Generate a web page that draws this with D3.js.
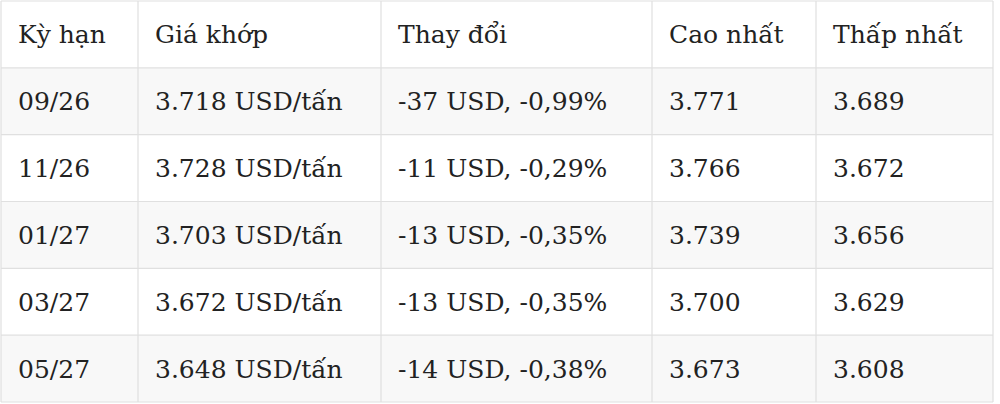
<!DOCTYPE html>
<html>
<head>
<meta charset="utf-8">
<script src="https://cdn.jsdelivr.net/npm/d3@7"></script>
<style>
  html, body { margin: 0; padding: 0; background: #fff; }
  svg { display: block; }
  text { font-family: "DejaVu Serif", serif; font-size: 25px; fill: #222; }
</style>
</head>
<body>
<svg id="chart" width="1000" height="404"></svg>
<script>
// data
const headers = ['Kỳ hạn', 'Giá khớp', 'Thay đổi', 'Cao nhất', 'Thấp nhất'];
const terms = ['09/26', '11/26', '01/27', '03/27', '05/27'];
const prices = ['3.718 USD/tấn', '3.728 USD/tấn', '3.703 USD/tấn', '3.672 USD/tấn', '3.648 USD/tấn'];
const changes = ['-37 USD, -0,99%', '-11 USD, -0,29%', '-13 USD, -0,35%', '-13 USD, -0,35%', '-14 USD, -0,38%'];
const highs = ['3.771', '3.766', '3.739', '3.700', '3.673'];
const lows = ['3.689', '3.672', '3.656', '3.629', '3.608'];

const rows = [headers].concat(terms.map((t, i) => [t, prices[i], changes[i], highs[i], lows[i]]));

// layout
const colEdges = [1, 138, 381, 652, 816, 993];
const tableTop = 1, tableBottom = 402;
const padX = 17;

const y = d3.scaleBand()
  .domain(d3.range(rows.length))
  .range([tableTop, tableBottom]);

const svg = d3.select('#chart');

// row backgrounds (striped body rows)
svg.append('g').selectAll('rect')
  .data(rows)
  .join('rect')
  .attr('x', colEdges[0])
  .attr('y', (d, i) => y(i))
  .attr('width', colEdges[colEdges.length - 1] - colEdges[0])
  .attr('height', y.bandwidth())
  .attr('fill', (d, i) => (i % 2 === 1 ? '#f8f8f8' : '#fff'));

// grid lines
const grid = svg.append('g').attr('stroke', '#e0e0e0').attr('stroke-width', 1.2);
grid.selectAll('line.h')
  .data(d3.range(rows.length + 1))
  .join('line')
  .attr('class', 'h')
  .attr('x1', colEdges[0]).attr('x2', colEdges[colEdges.length - 1])
  .attr('y1', i => (i === rows.length ? tableBottom : y(i)))
  .attr('y2', i => (i === rows.length ? tableBottom : y(i)));
grid.selectAll('line.v')
  .data(colEdges)
  .join('line')
  .attr('class', 'v')
  .attr('x1', d => d).attr('x2', d => d)
  .attr('y1', tableTop).attr('y2', tableBottom);

// cell text
const rowG = svg.append('g').selectAll('g')
  .data(rows)
  .join('g')
  .attr('transform', (d, i) => 'translate(0,' + (y(i) + y.bandwidth() / 2) + ')');

rowG.selectAll('text')
  .data(d => d)
  .join('text')
  .attr('x', (d, j) => colEdges[j] + padX)
  .attr('dy', '0.36em')
  .text(d => d);
</script>
</body>
</html>
